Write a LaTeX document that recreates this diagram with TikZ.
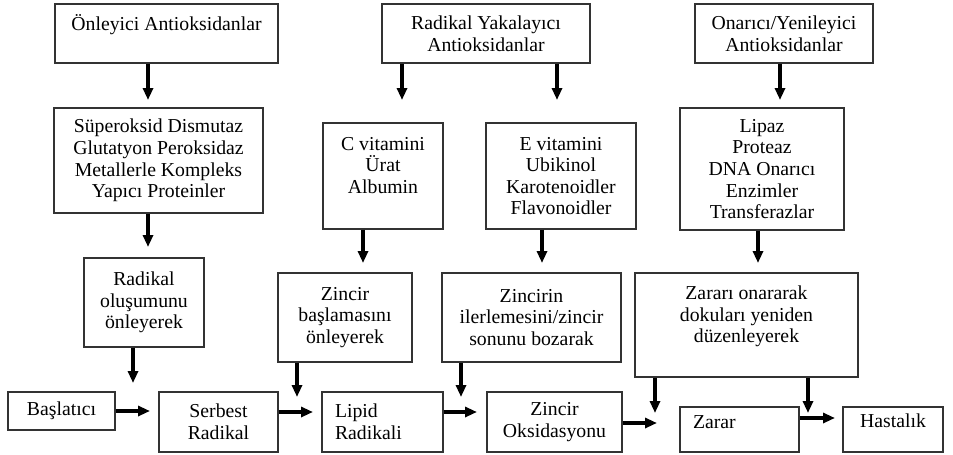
\documentclass[tikz,border=0pt]{standalone}
\usepackage{fontspec}
\setmainfont{Liberation Serif}
\usetikzlibrary{arrows.meta}
\newdimen\px \px=0.75pt
\colorlet{boxcolor}{black!80}
\tikzset{arr/.style={line width=3pt,-{Triangle[length=9pt,width=7.5pt]}}}

\begin{document}
\begin{tikzpicture}[x=0.75pt,y=-0.75pt,font=\fontsize{14.8}{16.2}\selectfont]
\useasboundingbox (0,0) rectangle (953,454);

\begin{scope}[every node/.style={draw=boxcolor,line width=0.9pt,align=center,inner sep=0pt}]
% top row
\node[minimum width=223\px,minimum height=59\px] (onl) at (166.5,33.5) {Önleyici Antioksidanlar\\~};
\node[minimum width=208\px,minimum height=59\px] (ryak) at (486,33.5) {Radikal Yakalayıcı\\Antioksidanlar};
\node[minimum width=178\px,minimum height=59\px] (onr) at (784,33.5) {Onarıcı/Yenileyici\\Antioksidanlar};
% second row
\node[minimum width=209\px,minimum height=105\px] (sod) at (158.5,160.5) {Süperoksid Dismutaz\\Glutatyon Peroksidaz\\Metallerle Kompleks\\Yapıcı Proteinler};
\node[minimum width=120\px,minimum height=106\px] (cvit) at (383,176) {C vitamini\\Ürat\\Albumin\\~};
\node[minimum width=150\px,minimum height=106\px] (evit) at (561,176) {E vitamini\\Ubikinol\\Karotenoidler\\Flavonoidler};
\node[minimum width=164\px,minimum height=122\px] (lip) at (762,169) {Lipaz\\Proteaz\\DNA Onarıcı\\Enzimler\\Transferazlar};
% third row
\node[minimum width=120\px,minimum height=89\px] (rol) at (144,302.5) {Radikal\\oluşumunu\\önleyerek};
\node[minimum width=134\px,minimum height=89\px] (zba) at (345,317.5) {Zincir\\başlamasını\\önleyerek};
\node[minimum width=179\px,minimum height=89\px] (zil) at (531.5,317.5) {Zincirin\\ilerlemesini/zincir\\sonunu bozarak};
\node[minimum width=223\px,minimum height=104\px] (zon) at (746.5,325) {Zararı onararak\\dokuları yeniden\\düzenleyerek\\~};
% bottom row
\node[minimum width=107\px,minimum height=38\px] (bas) at (61.5,411) {Başlatıcı};
\node[minimum width=119\px,minimum height=60\px] (ser) at (218.5,422) {Serbest\\Radikal};
\node[minimum width=121\px,minimum height=60\px,text width=95\px,align=left] (lrad) at (382.5,422) {Lipid\\Radikali};
\node[minimum width=135\px,minimum height=60\px] (zoks) at (554.5,422) {Zincir\\Oksidasyonu};
\node[minimum width=119\px,minimum height=45\px,text width=93\px,align=left] (zar) at (739.5,429.5) {Zarar\\[-5pt]~};
\node[minimum width=100\px,minimum height=45\px] (has) at (893,429.5) {Hastalık\\[-3pt]~};
\end{scope}

% arrow tips
\foreach \n/\x/\y in {v1/148/100, v2/148/247, v3/133/383, v4/402/100, v5/557/100,
  v6/363/263, v7/542/263, v8/780/100, v9/758/263, v10/297/397, v11/461/397,
  v12/655/413, v13/808/413, h1/150/411, h2/313/412, h3/477/412, h4/657/423, h5/835/418}
  \coordinate (\n) at (\x,\y);

\draw[arr] (onl.south -| v1) -- (v1);
\draw[arr] (sod.south -| v2) -- (v2);
\draw[arr] (rol.south -| v3) -- (v3);
\draw[arr] (ryak.south -| v4) -- (v4);
\draw[arr] (ryak.south -| v5) -- (v5);
\draw[arr] (cvit.south -| v6) -- (v6);
\draw[arr] (evit.south -| v7) -- (v7);
\draw[arr] (onr.south -| v8) -- (v8);
\draw[arr] (lip.south -| v9) -- (v9);
\draw[arr] (zba.south -| v10) -- (v10);
\draw[arr] (zil.south -| v11) -- (v11);
\draw[arr] (zon.south -| v12) -- (v12);
\draw[arr] (zon.south -| v13) -- (v13);

\draw[arr] (bas.east) -- (h1);
\draw[arr] (ser.east |- h2) -- (h2);
\draw[arr] (lrad.east |- h3) -- (h3);
\draw[arr] (zoks.east |- h4) -- (h4);
\draw[arr] (zar.east |- h5) -- (h5);

\end{tikzpicture}
\end{document}
